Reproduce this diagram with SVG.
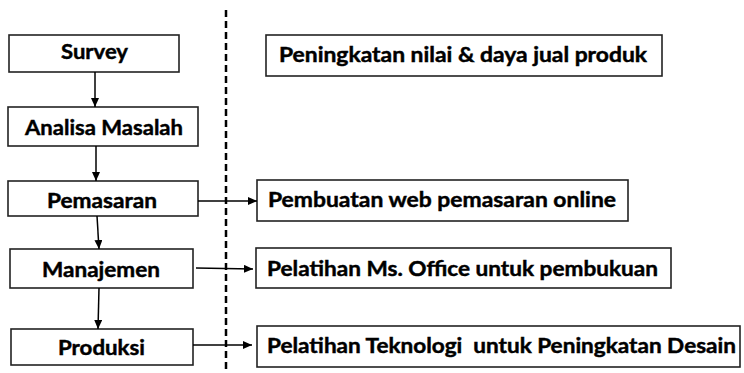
<svg xmlns="http://www.w3.org/2000/svg" width="744" height="373" viewBox="0 0 744 373">
<style>
.box{fill:#fff;stroke:#222;stroke-width:1.6}
.t{font-family:Lato,"Open Sans","Liberation Sans",sans-serif;font-weight:bold;font-size:21px;fill:#000;stroke:#000;stroke-width:0.45}
.c{stroke:#000;stroke-width:1.5;fill:none;marker-end:url(#ah)}
.dash{stroke:#000;stroke-width:2.5;stroke-dasharray:7 4;fill:none}
</style>
<defs>
<marker id="ah" markerUnits="userSpaceOnUse" markerWidth="10" markerHeight="10" refX="9" refY="4" orient="auto">
<path d="M0,0 L9,4 L0,8 Z" fill="#000"/>
</marker>
</defs>
<rect width="744" height="373" fill="#fff"/>
<path class="dash" d="M226,10 V373"/>
<g id="survey"><rect class="box" x="9" y="35" width="170" height="37"/><text class="t" x="61" y="59" textLength="67" lengthAdjust="spacingAndGlyphs">Survey</text></g>
<g id="analisa"><rect class="box" x="8" y="107" width="190" height="39"/><text class="t" x="25" y="135" textLength="158" lengthAdjust="spacingAndGlyphs">Analisa Masalah</text></g>
<g id="pemasaran"><rect class="box" x="8" y="181" width="190" height="35"/><text class="t" x="47" y="208" textLength="110" lengthAdjust="spacingAndGlyphs">Pemasaran</text></g>
<g id="manajemen"><rect class="box" x="10" y="249" width="183" height="39"/><text class="t" x="42" y="277" textLength="118" lengthAdjust="spacingAndGlyphs">Manajemen</text></g>
<g id="produksi"><rect class="box" x="11" y="329" width="182" height="36"/><text class="t" x="58" y="355" textLength="87" lengthAdjust="spacingAndGlyphs">Produksi</text></g>
<g id="peningkatan"><rect class="box" x="266" y="35" width="396" height="41"/><text class="t" x="279" y="62" textLength="368" lengthAdjust="spacingAndGlyphs">Peningkatan nilai &amp; daya jual produk</text></g>
<g id="web"><rect class="box" x="257" y="180" width="371" height="41"/><text class="t" x="268" y="207" textLength="348" lengthAdjust="spacingAndGlyphs">Pembuatan web pemasaran online</text></g>
<g id="office"><rect class="box" x="256" y="248" width="415" height="40"/><text class="t" x="267" y="276" textLength="391" lengthAdjust="spacingAndGlyphs">Pelatihan Ms. Office untuk pembukuan</text></g>
<g id="teknologi"><rect class="box" x="257" y="326" width="483" height="41"/><text class="t" x="267" y="353" textLength="469" lengthAdjust="spacingAndGlyphs" xml:space="preserve">Pelatihan Teknologi  untuk Peningkatan Desain</text></g>
<g id="connectors">
<path class="c" d="M95,72 L95,107"/>
<path class="c" d="M96,146 L96,181"/>
<path class="c" d="M97,216 L99,249"/>
<path class="c" d="M99,288 L98,329"/>
<path class="c" d="M198,201 L257,201"/>
<path class="c" d="M196,268 L253,269"/>
<path class="c" d="M193,345 L252,345"/>
</g>
</svg>
